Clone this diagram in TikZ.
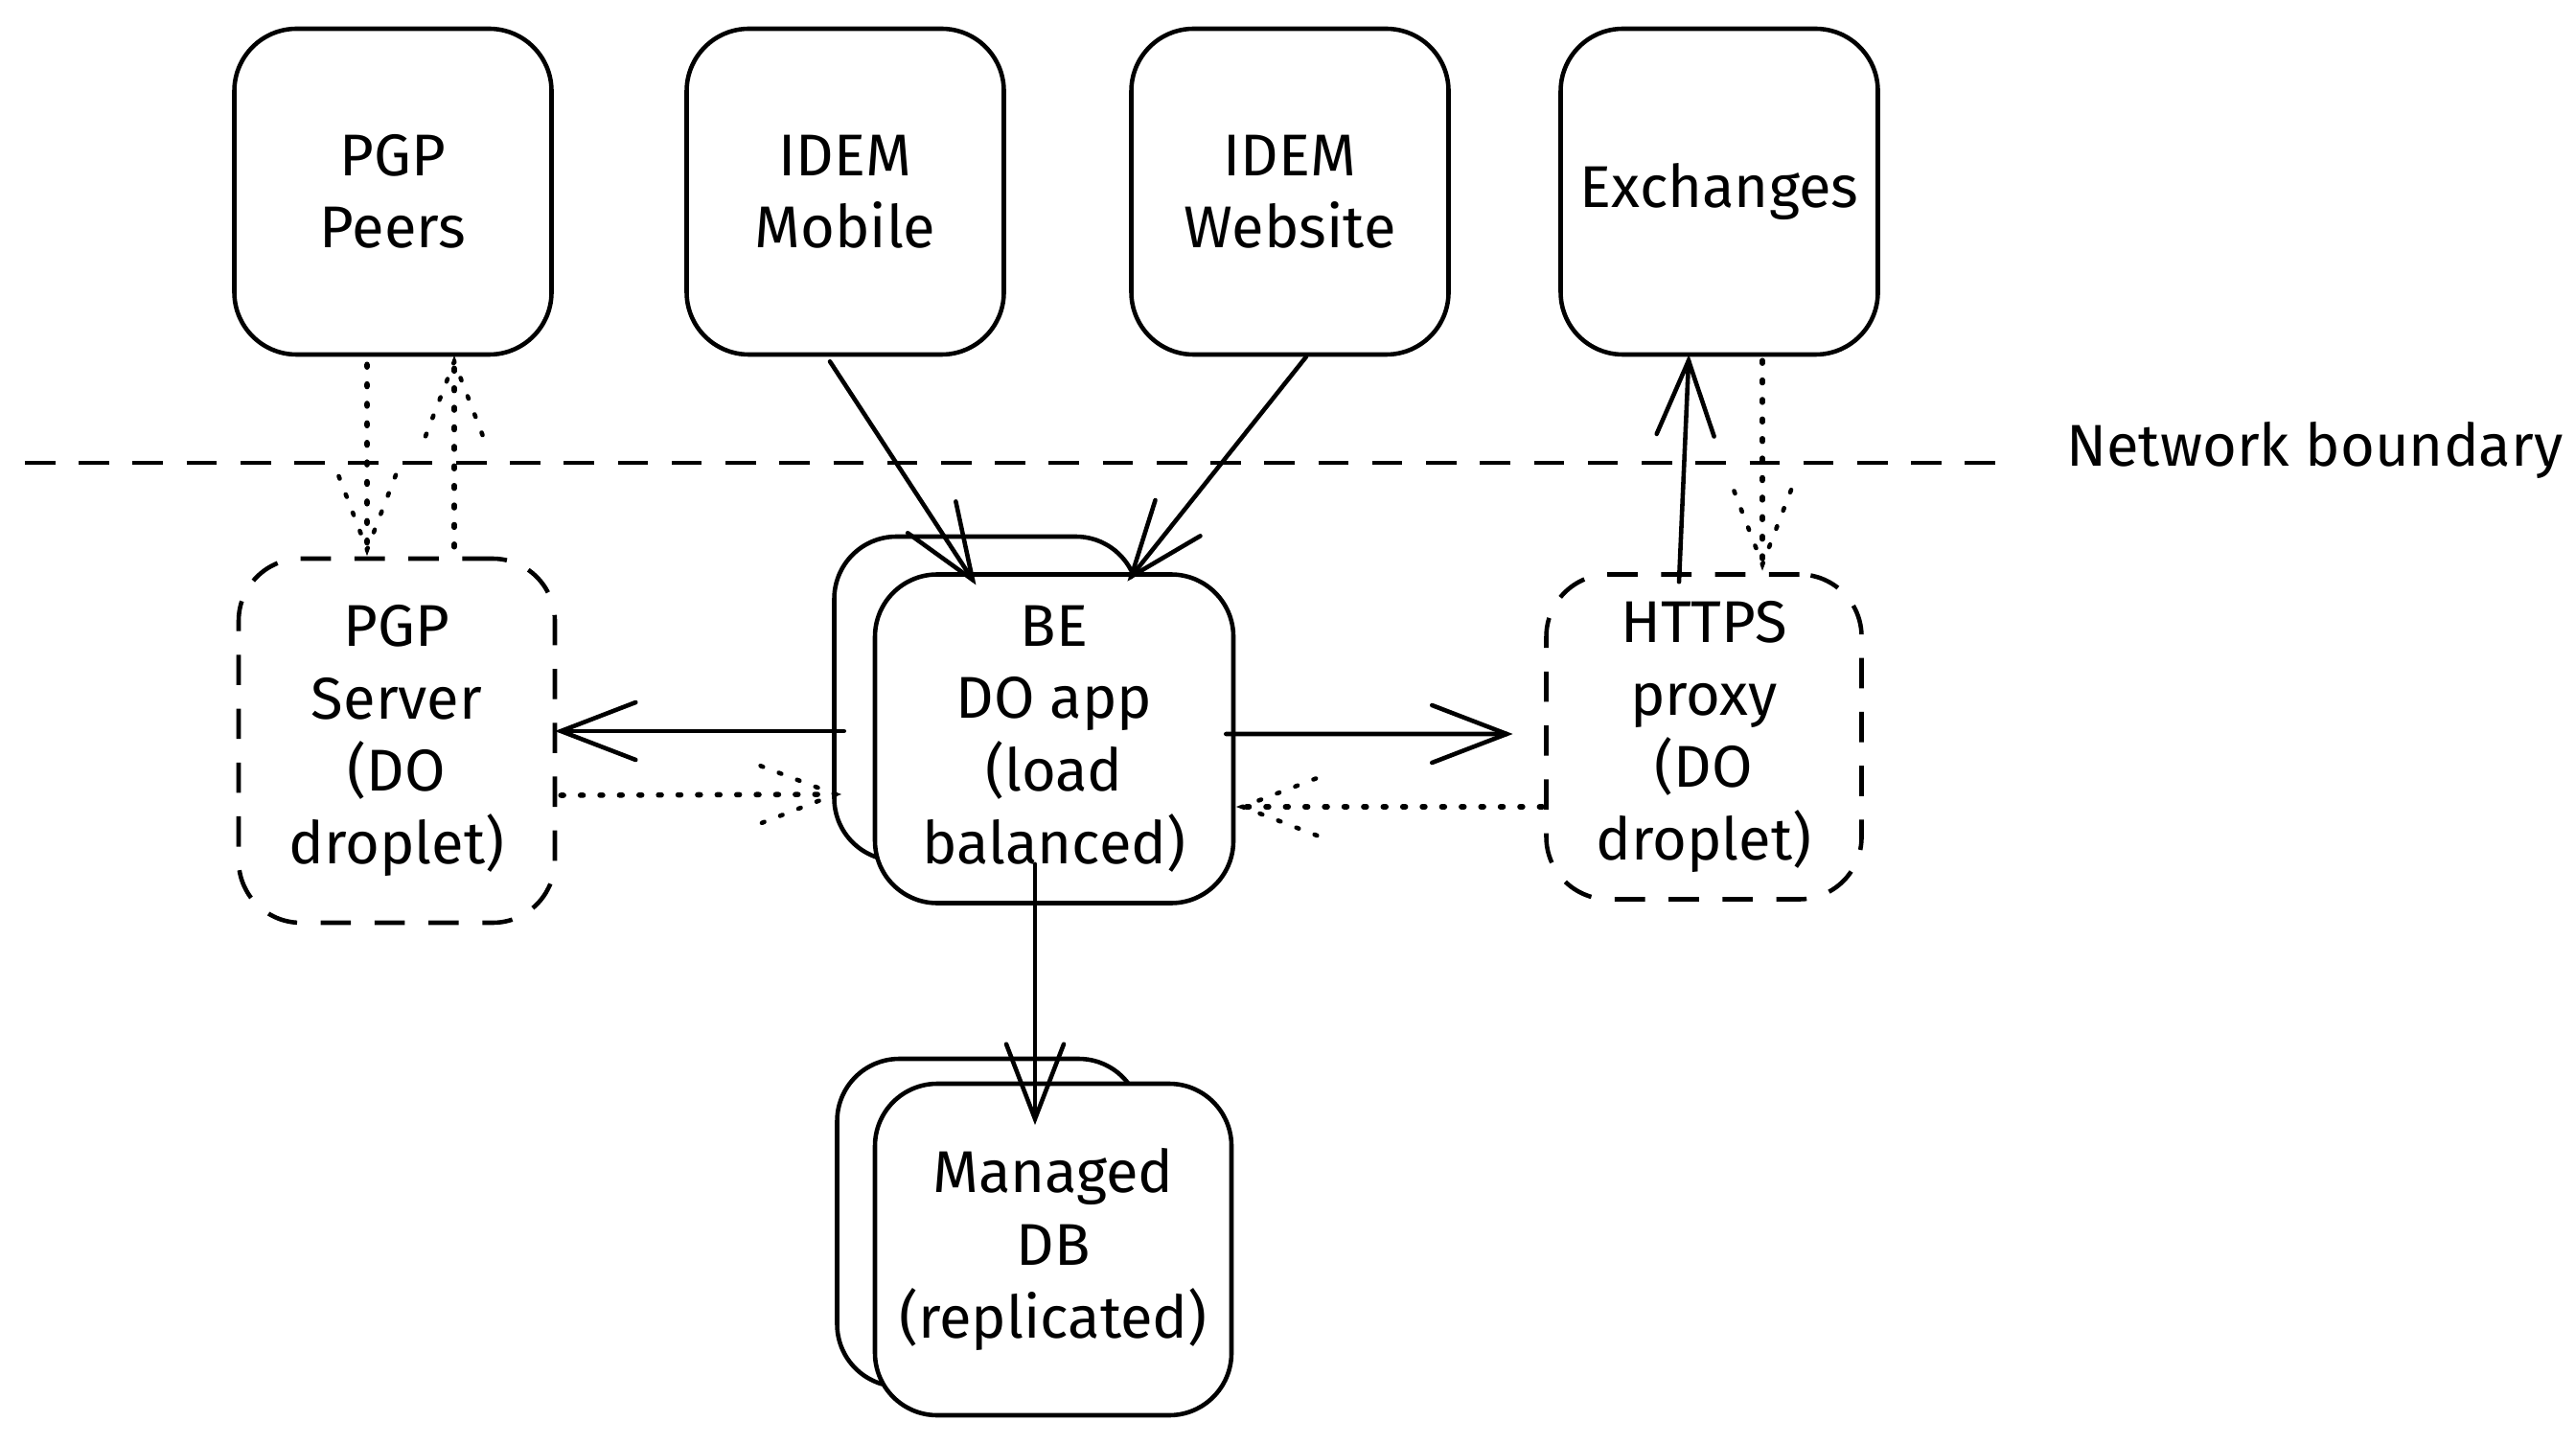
\documentclass[tikz,border=0pt]{standalone}
\usepackage{fontspec}
\setmainfont{Fira Sans}
\usetikzlibrary{positioning, decorations.markings}

\begin{document}
\begin{tikzpicture}[
    box/.style={draw, line width=1.3pt, rounded corners=0.65cm, fill=white, align=center, inner sep=0pt},
    dashbox/.style={box, dash pattern=on 9pt off 7pt},
    dotline/.style={dash pattern=on 0.8pt off 5pt, line cap=round},
    vhead/.style={postaction={decorate, decoration={markings, mark=at position 1 with {\draw[#1, line width=1.3pt, line cap=round] (-0.78,0.3) -- (0,0) -- (-0.78,-0.3);}}}},
    sarrow/.style={line width=1.3pt, line cap=round, vhead=solid},
    darrow/.style={line width=1.6pt, dotline, vhead=dotline},
    font=\fontsize{17.5}{21.5}\selectfont
]
\useasboundingbox (0,0) rectangle (26.88,15.06);

% clients outside
\foreach \name/\x/\txt in {peers/4.1/{PGP\\Peers}, mobile/8.82/{IDEM\\Mobile}, website/13.46/{IDEM\\Website}, exch/17.94/Exchanges}
    \node[box, minimum width=3.31cm, minimum height=3.4cm] (\name) at (\x,13.06) {\txt};

% network boundary
\coordinate (nbl) at (0.26,10.23);
\coordinate (nbr) at (21.0,10.23);
\draw[line width=1.3pt, dash pattern=on 9pt off 7pt] (nbl) -- (nbr);
\node[anchor=west] (nblabel) at (21.44,10.36) {Network boundary};

% inside
\node[dashbox, minimum width=3.3cm, minimum height=3.8cm] (pgpsrv) at (4.14,7.33) {PGP\\Server\\(DO\\droplet)};
\node[box, minimum width=3.17cm, minimum height=3.38cm] (beback) at (10.29,7.77) {};
\node[box, minimum width=3.74cm, minimum height=3.43cm] (be) at (11.0,7.35) {BE\\DO app\\(load\\balanced)};
\node[dashbox, minimum width=3.29cm, minimum height=3.39cm] (proxy) at (17.78,7.37) {HTTPS\\proxy\\(DO\\droplet)};
\node[box, minimum width=3.17cm, minimum height=3.42cm] (dbback) at (10.32,2.3) {};
\node[box, minimum width=3.72cm, minimum height=3.46cm] (db) at (10.99,2.02) {Managed\\DB\\(replicated)};

% connections
\draw[darrow] ([xshift=-0.27cm,yshift=-0.08cm]peers.south) -- ([xshift=-0.31cm,yshift=0.07cm]pgpsrv.north);
\draw[darrow] ([xshift=0.6cm,yshift=0.1cm]pgpsrv.north) -- ([xshift=0.64cm,yshift=-0.05cm]peers.south);
\draw[sarrow] ([xshift=-0.16cm,yshift=-0.05cm]mobile.south) -- ([xshift=-0.85cm,yshift=-0.08cm]be.north);
\draw[sarrow] ([xshift=0.17cm]website.south) -- ([xshift=0.8cm,yshift=-0.05cm]be.north);
\draw[sarrow] ([xshift=-0.3cm,yshift=0.08cm]be.west) -- ([xshift=0.04cm,yshift=0.1cm]pgpsrv.east);
\draw[darrow] ([xshift=0.04cm,yshift=-0.57cm]pgpsrv.east) -- ([xshift=-0.39cm,yshift=-0.58cm]be.west);
\draw[sarrow] ([xshift=-0.1cm,yshift=0.05cm]be.east) -- ([xshift=-0.39cm,yshift=0.03cm]proxy.west);
\draw[darrow] ([xshift=-0.02cm,yshift=-0.73cm]proxy.west) -- ([xshift=0.07cm,yshift=-0.71cm]be.east);
\draw[sarrow] ([xshift=-0.2cm,yshift=0.43cm]be.south) -- ([xshift=-0.19cm,yshift=-0.39cm]db.north);
\draw[sarrow] ([xshift=-0.26cm,yshift=-0.1cm]proxy.north) -- ([xshift=-0.32cm,yshift=-0.04cm]exch.south);
\draw[darrow] ([xshift=0.45cm,yshift=-0.04cm]exch.south) -- ([xshift=0.61cm,yshift=0.08cm]proxy.north);
\end{tikzpicture}
\end{document}
